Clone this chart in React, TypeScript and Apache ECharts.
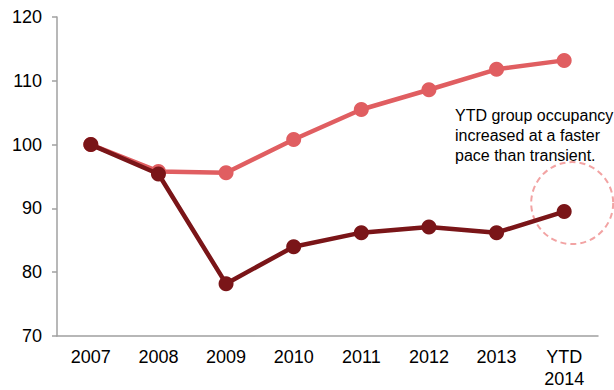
import React, { useEffect, useRef } from "react";
import * as echarts from "echarts";

const categories = ["2007", "2008", "2009", "2010", "2011", "2012", "2013", "YTD\n2014"];
const groupValues = [100, 95.8, 95.6, 100.8, 105.5, 108.6, 111.8, 113.2];
const transientValues = [100, 95.4, 78.2, 84.0, 86.2, 87.1, 86.2, 89.5];
const yTicks = { min: 70, max: 120, interval: 10 };
const noteLines = ["YTD group occupancy", "increased at a faster", "pace than transient."];

const FONT = "'Liberation Sans', Arial, sans-serif";
const LIGHT = "#E05E61";
const DARK = "#7A1518";

export default function App() {
  const ref = useRef<HTMLDivElement>(null);
  useEffect(() => {
    if (!ref.current) return;
    const chart = echarts.init(ref.current, undefined, { renderer: "svg" });
    chart.setOption({
      animation: false,
      grid: { left: 57, right: 16, top: 17, bottom: 54 },
      xAxis: {
        type: "category",
        data: categories,
        boundaryGap: true,
        axisLine: { lineStyle: { color: "#A0A0A0", width: 1.5 } },
        axisTick: { length: 5, lineStyle: { color: "#A0A0A0", width: 1.5 } },
        axisLabel: { color: "#000", fontFamily: FONT, fontSize: 18, lineHeight: 22, margin: 10 },
      },
      yAxis: {
        type: "value",
        min: yTicks.min,
        max: yTicks.max,
        interval: yTicks.interval,
        axisLine: { show: true, lineStyle: { color: "#A0A0A0", width: 1.5 } },
        axisTick: { show: true, length: 5, lineStyle: { color: "#A0A0A0", width: 1.5 } },
        splitLine: { show: false },
        axisLabel: { color: "#000", fontFamily: FONT, fontSize: 18, margin: 15 },
      },
      series: [
        {
          name: "Group",
          type: "line",
          data: groupValues,
          symbol: "circle",
          symbolSize: 15,
          lineStyle: { color: LIGHT, width: 4.5 },
          itemStyle: { color: LIGHT },
          z: 2,
        },
        {
          name: "Transient",
          type: "line",
          data: transientValues,
          symbol: "circle",
          symbolSize: 15,
          lineStyle: { color: DARK, width: 4.5 },
          itemStyle: { color: DARK },
          z: 3,
        },
      ],
    });
    const last = transientValues.length - 1;
    const p = chart.convertToPixel({ seriesIndex: 1 }, [last, transientValues[last]]) as number[];
    chart.setOption({
      graphic: [
        {
          type: "circle",
          shape: { cx: p[0] + 8, cy: p[1] - 8.5, r: 41 },
          style: { fill: "none", stroke: "#F2A3A3", lineWidth: 2, lineDash: [6, 4] },
          z: 1,
        },
        {
          type: "text",
          x: 455,
          y: 105,
          style: {
            text: noteLines.join("\n"),
            font: `16px ${FONT}`,
            fill: "#000",
            lineHeight: 20,
            verticalAlign: "top",
            align: "left",
          },
        },
      ],
    });
    return () => chart.dispose();
  }, []);
  return <div ref={ref} style={{ width: 614, height: 390, position: "absolute", left: 0, top: 0 }} />;
}
